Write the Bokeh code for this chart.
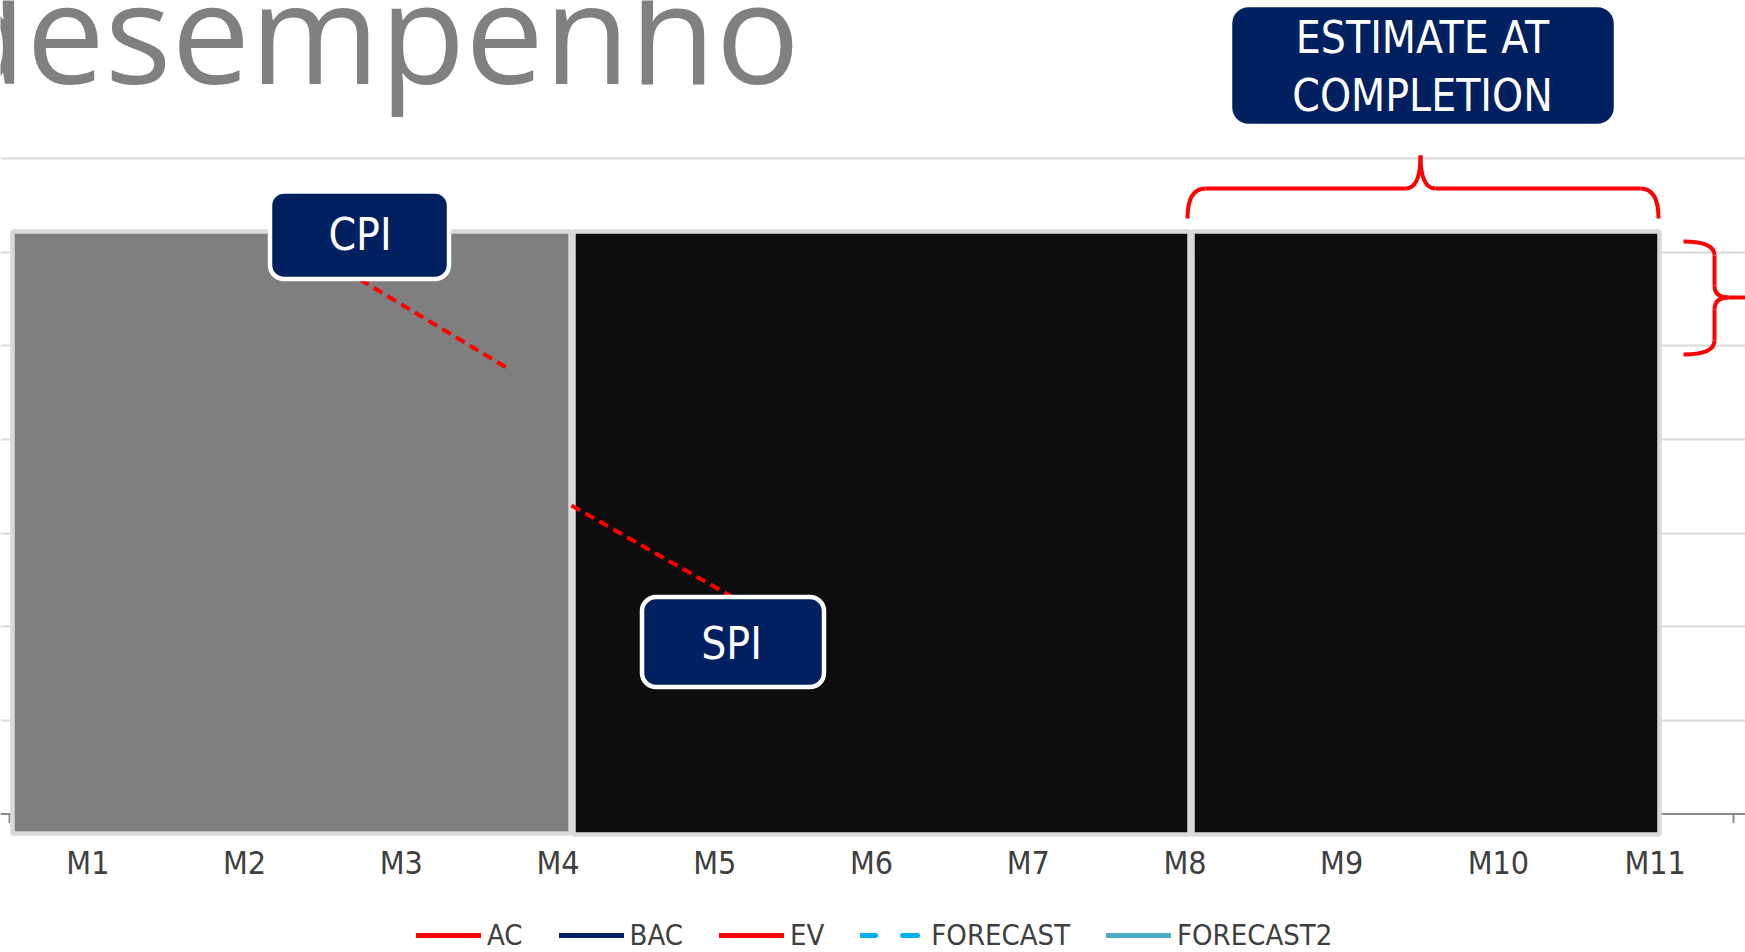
from bokeh.plotting import figure
from bokeh.layouts import column
from bokeh.models import Range1d, FixedTicker, Grid, Span, Legend, LegendItem, Label
from bokeh.core.properties import value
from bokeh.embed import file_html
from bokeh.resources import INLINE

NA = float("nan")

# ---------------- data ----------------
categories = ["M1", "M2", "M3", "M4", "M5", "M6", "M7", "M8", "M9", "M10", "M11"]
series_names = ["AC", "BAC", "EV", "FORECAST", "FORECAST2"]
series_colors = ["#FF0000", "#002060", "#FF0000", "#00B0F0", "#4BACC6"]
series_dash = ["solid", "solid", "solid", "15 27", "solid"]
# the series lines are completely hidden behind the overlay shapes in the reference:
# their values cannot be read, so they are left as missing values
ac_values = [NA, NA, NA, NA, NA, NA, NA, NA, NA, NA, NA]
bac_values = [NA, NA, NA, NA, NA, NA, NA, NA, NA, NA, NA]
ev_values = [NA, NA, NA, NA, NA, NA, NA, NA, NA, NA, NA]
forecast_values = [NA, NA, NA, NA, NA, NA, NA, NA, NA, NA, NA]
forecast2_values = [NA, NA, NA, NA, NA, NA, NA, NA, NA, NA, NA]
y_gridlines = [1, 2, 3, 4, 5, 6, 7]

title_text = "desempenho"
callout_texts = ["CPI", "SPI", "ESTIMATE AT", "COMPLETION"]

FONT = "DejaVu Sans Condensed"
K_FONT = 0.346      # half of (ascent - descent) for the narrow font
K_TITLE = 0.388     # same for Open Sans

# ---------------- geometry helpers (page pixels -> data units) ----------------
FRAME_W, FRAME_H, TOTAL_H = 1745, 840, 952
PLOT_LEFT, PLOT_RIGHT = 9, 1733
AXIS_Y, TOP_Y = 813.5, 158
XS = (PLOT_RIGHT - PLOT_LEFT) / len(categories)
YS = (AXIS_Y - TOP_Y) / 7.0


def X(px):
    return (px - PLOT_LEFT) / XS - 0.5


def Y(py):
    return (AXIS_Y - py) / YS


def YB(baseline_px, size):
    # text anchor for a wanted baseline
    return Y(baseline_px - K_FONT * size)


xr = Range1d(X(0), X(FRAME_W))

p = figure(
    width=FRAME_W, height=FRAME_H,
    x_range=xr, y_range=Range1d(Y(FRAME_H), Y(0)),
    x_axis_location=None, y_axis_location=None,
    output_backend="svg", toolbar_location=None,
    min_border=0, outline_line_color=None,
    background_fill_color="white", border_fill_color="white",
)
for g in p.grid:
    g.visible = False

grid = Grid(dimension=1, ticker=FixedTicker(ticks=y_gridlines),
            grid_line_color="#d9d9d9", grid_line_width=2)
p.add_layout(grid)

# x axis line and category boundary ticks
p.add_layout(Span(location=0, dimension="width", line_color="#8a8a8a",
                  line_width=2, level="underlay"))
bounds = [i - 0.5 for i in range(len(categories) + 1)]
p.segment(x0=bounds, y0=[0] * len(bounds), x1=bounds, y1=[-9 / YS] * len(bounds),
          line_color="#8a8a8a", line_width=2)

# series lines (hidden behind the overlays in the reference)
series_values = [ac_values, bac_values, ev_values, forecast_values, forecast2_values]
renderers = []
for name, col, dash, vals in zip(series_names, series_colors, series_dash, series_values):
    rr = p.line(x=list(range(len(vals))), y=vals, line_color=col, line_width=5,
                line_dash=dash, line_cap="round")
    renderers.append(rr)

# overlay panels
p.quad(left=[X(12), X(573), X(1192)], right=[X(570), X(1189), X(1659)],
       top=[Y(231)] * 3, bottom=[Y(833), Y(834), Y(834)],
       fill_color=["#7f7f7f", "#0d0d0d", "#0d0d0d"],
       line_color="#d9d9d9", line_width=4.5)

# connectors
p.segment(x0=[X(359.5), X(571)], y0=[Y(279), Y(505)],
          x1=[X(507.5), X(731)], y1=[Y(368), Y(596)],
          line_color="#FF0000", line_width=4, line_dash="10 6")

# callout boxes
p.quad(left=[X(269.5), X(641.5), X(1234)], right=[X(448.5), X(823.5), X(1611)],
       top=[Y(191), Y(596.5), Y(9)], bottom=[Y(278.5), Y(686.5), Y(121)],
       fill_color="#002060", line_color=["white", "white", "#002060"],
       line_width=4.5, border_radius=14)

CS = 44
p.text(x=[X(359.5), X(731), X(1422), X(1422)],
       y=[YB(249, CS), YB(658, CS), YB(52.5, CS), YB(110, CS)],
       text=callout_texts, text_font=value(FONT),
       text_font_size=f"{CS}px", text_color="white",
       text_align="center", text_baseline="alphabetic")

# braces
L, R, C, yh, ytip, yend, r = 1187, 1658, 1420, 188, 155, 218, 18
xa, xv, xp, ytop, ymid, ybot = 1683, 1714, 1745, 241, 297, 354
qx0 = [L, C - 15, C, R - r, xa, xv, xv + 14, xv]
qy0 = [yend, yh, ytip, yh, ytop, ymid - 12, ymid, ybot - 14]
qcx = [L, C, C, R, xv, xv, xv, xv]
qcy = [yh, yh, yh, yh, ytop, ymid, ymid, ybot]
qx1 = [L + r, C, C + 15, R, xv, xv + 14, xv, xa]
qy1 = [yh, ytip, yh, yend, ytop + 14, ymid, ymid + 12, ybot]
p.quadratic(x0=[X(v) for v in qx0], y0=[Y(v) for v in qy0],
            cx=[X(v) for v in qcx], cy=[Y(v) for v in qcy],
            x1=[X(v) for v in qx1], y1=[Y(v) for v in qy1],
            line_color="#FF0000", line_width=4)
sx0 = [L + r, C + 15, xv, xv, xv + 14]
sy0 = [yh, yh, ytop + 14, ymid + 12, ymid]
sx1 = [C - 15, R - r, xv, xv, xp]
sy1 = [yh, yh, ymid - 12, ybot - 14, ymid]
p.segment(x0=[X(v) for v in sx0], y0=[Y(v) for v in sy0],
          x1=[X(v) for v in sx1], y1=[Y(v) for v in sy1],
          line_color="#FF0000", line_width=4)

# title
TS = 140
p.add_layout(Label(x=X(-60), y=Y(83 - K_TITLE * TS), text=title_text, text_font="Open Sans",
                   text_font_size=f"{TS}px", text_color="#808080",
                   text_baseline="alphabetic"))

# ---------------- lower strip: category axis + legend ----------------
p2 = figure(
    width=FRAME_W, height=TOTAL_H - FRAME_H,
    x_range=xr, y_range=Range1d(0, 1),
    x_axis_location="above", y_axis_location=None,
    output_backend="svg", toolbar_location=None,
    min_border=0, min_border_top=42, outline_line_color=None,
    background_fill_color="white", border_fill_color="white",
)
for g in p2.grid:
    g.visible = False

ax = p2.xaxis[0]
ax.ticker = FixedTicker(ticks=list(range(len(categories))))
ax.major_label_overrides = {i: c for i, c in enumerate(categories)}
ax.axis_line_color = None
ax.major_tick_line_color = None
ax.minor_tick_line_color = None
ax.major_tick_out = 0
ax.major_tick_in = 0
ax.major_label_standoff = 2
ax.major_label_text_font = FONT
ax.major_label_text_font_size = "32px"
ax.major_label_text_color = "#404040"

# legend entries mirror the series styles
legend_renderers = []
for col, dash, vals in zip(series_colors, series_dash, series_values):
    lr = p2.line(x=list(range(len(vals))), y=vals, line_color=col, line_width=5,
                 line_dash=dash, line_cap="round")
    legend_renderers.append(lr)

legend = Legend(items=[LegendItem(label=n, renderers=[rr]) for n, rr in zip(series_names, legend_renderers)],
                orientation="horizontal", location=(416, 0),
                label_text_font=FONT, label_text_font_size="29px",
                label_text_color="#404040", glyph_width=65, glyph_height=20,
                label_standoff=6, spacing=36, padding=0, margin=0,
                border_line_color=None, background_fill_alpha=0)
p2.add_layout(legend)

layout = column(p, p2, spacing=0)
open("out.html", "w").write(file_html(layout, INLINE))
